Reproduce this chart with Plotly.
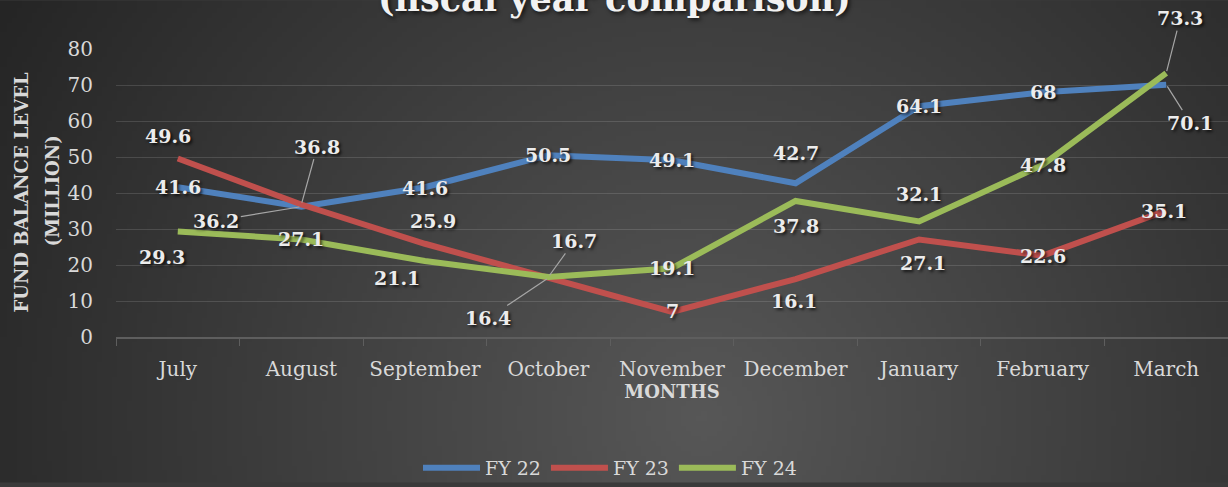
import base64, struct, zlib, math
import plotly.graph_objects as go

# ---------------- data ----------------
months = ["July", "August", "September", "October", "November",
          "December", "January", "February", "March"]
fy22 = [41.6, 36.2, 41.6, 50.5, 49.1, 42.7, 64.1, 68, 70.1]
fy23 = [49.6, 36.8, 25.9, 16.4, 7, 16.1, 27.1, 22.6, 35.1]
fy24 = [29.3, 27.1, 21.1, 16.7, 19.1, 37.8, 32.1, 47.8, 73.3]
series_names = ["FY 22", "FY 23", "FY 24"]
y_ticks = [0, 10, 20, 30, 40, 50, 60, 70, 80]

# ---------------- style ----------------
colors = ["#4F81BD", "#C0504D", "#9BBB59"]
# label offsets (px, screen coords) and whether a leader line is drawn
label_style = {
    "FY 22": [(0, 0, 0), (-85, 14, 1), (0, 1, 0), (0, 0, 0), (0, 0, 0),
              (0, -30, 0), (0, 0, 0), (0, 0, 0), (24, 38, 1)],
    "FY 23": [(-10, -22, 0), (16, -58, 1), (8, -23, 0), (-60, 40, 1), (0, -1, 0),
              (-2, 22, 0), (4, 24, 0), (0, 0, 0), (-2, 0, 0)],
    "FY 24": [(-16, 25, 0), (0, 0, 0), (-28, 17, 0), (26, -36, 1), (0, 0, 0),
              (0, 25, 0), (0, -27, 0), (0, 0, 0), (14, -55, 1)],
}

W, H = 1228, 487
ML, MR, MT, MB = 116, 0, 49, 147


def gradient_png(w, h):
    cx, cy, R = 0.57 * w, 0.86 * h, 0.66 * w
    c0, c1 = 0x57, 0x25
    raw = b""
    for j in range(h):
        row = b"\x00"
        for i in range(w):
            d = math.hypot(i - cx, (j - cy)) / R
            t = min(1.0, d)
            v = int(round(c0 + (c1 - c0) * t))
            row += bytes((v, v, v))
        raw += row

    def chunk(tag, data):
        c = struct.pack(">I", len(data)) + tag + data
        return c + struct.pack(">I", zlib.crc32(tag + data) & 0xffffffff)

    png = b"\x89PNG\r\n\x1a\n"
    png += chunk(b"IHDR", struct.pack(">IIBBBBB", w, h, 8, 2, 0, 0, 0))
    png += chunk(b"IDAT", zlib.compress(raw, 9))
    png += chunk(b"IEND", b"")
    return "data:image/png;base64," + base64.b64encode(png).decode()


fig = go.Figure()
for name, vals, col in zip(series_names, [fy22, fy23, fy24], colors):
    fig.add_trace(go.Scatter(
        x=months, y=vals, name=name, mode="lines",
        line=dict(color=col, width=6),
    ))

label_font = dict(family="DejaVu Serif", size=19, color="#ececec",
                  weight="bold", shadow="2px 2px 3px rgba(0,0,0,0.7)")
annotations = []
for name, vals in zip(series_names, [fy22, fy23, fy24]):
    for m, v, (dx, dy, lead) in zip(months, vals, label_style[name]):
        txt = f"{v:g}"
        if lead:
            annotations.append(dict(
                x=m, y=v, xref="x", yref="y", text=txt, showarrow=True,
                ax=dx, ay=dy, arrowhead=0, arrowwidth=1.2,
                arrowcolor="#a6a6a6", standoff=2, startstandoff=0,
                font=label_font))
        else:
            annotations.append(dict(
                x=m, y=v, xref="x", yref="y", text=txt, showarrow=False,
                xshift=dx, yshift=-dy, font=label_font))

ph = H - MT - MB
pw = W - ML - MR
# title (cut at the top as in the reference)
annotations.append(dict(
    x=(614 - ML) / pw, y=1 + (MT + 2) / ph, xref="paper", yref="paper",
    text="<b>(fiscal year comparison)</b>", showarrow=False,
    yanchor="middle", xanchor="center",
    font=dict(family="DejaVu Serif", size=35, color="#f2f2f2",
              shadow="2px 2px 4px rgba(0,0,0,0.7)")))
# y-axis title (two lines)
axis_title_font = dict(family="DejaVu Serif", size=18, color="#d9d9d9", weight="bold")
annotations.append(dict(
    x=(22 - ML) / pw, y=1 - (194 - MT) / ph, xref="paper", yref="paper",
    xanchor="center", yanchor="middle",
    text="FUND BALANCE LEVEL", textangle=-90, showarrow=False,
    font=axis_title_font))
annotations.append(dict(
    x=(53 - ML) / pw, y=1 - (193 - MT) / ph, xref="paper", yref="paper",
    xanchor="center", yanchor="middle",
    text="(MILLION)", textangle=-90, showarrow=False,
    font=axis_title_font))

fig.update_layout(
    width=W, height=H,
    margin=dict(l=ML, r=MR, t=MT, b=MB),
    paper_bgcolor="#3a3a3a",
    plot_bgcolor="rgba(0,0,0,0)",
    images=[dict(source=gradient_png(246, 98), xref="paper", yref="paper",
                 x=-ML / pw, y=1 + MT / ph, sizex=W / pw, sizey=H / ph,
                 xanchor="left", yanchor="top", sizing="stretch",
                 layer="below")],
    showlegend=True,
    legend=dict(orientation="h", x=(610 - ML) / pw, xanchor="center",
                y=1 - (473 - MT) / ph, yanchor="middle",
                font=dict(family="DejaVu Serif", size=19, color="#d9d9d9"),
                bgcolor="rgba(0,0,0,0)", itemwidth=57, tracegroupgap=0),
    xaxis=dict(
        type="category", range=[-0.5, 8.5], showgrid=False,
        showline=True, linecolor="#5e5e5e", linewidth=1.5,
        ticks="outside", tickson="boundaries", ticklen=7, tickcolor="#5e5e5e",
        tickfont=dict(family="DejaVu Serif", size=20, color="#d9d9d9"),
        ticklabelstandoff=13,
        title=dict(text="<b>MONTHS</b>", standoff=6,
                   font=dict(family="DejaVu Serif", size=18, color="#d9d9d9")),
    ),
    yaxis=dict(
        range=[0, 80], tickvals=y_ticks, showgrid=True,
        gridcolor="rgba(217,217,217,0.16)", gridwidth=1.3, zeroline=False,
        showline=False, ticks="",
        tickfont=dict(family="DejaVu Serif", size=20, color="#d9d9d9"),
        ticklabelstandoff=22,
    ),
    annotations=annotations,
)

fig.write_html("out.html", config={"displayModeBar": False},
               post_script="document.body.style.margin='0';"
                           "document.body.style.background='#2a2a2a';")
